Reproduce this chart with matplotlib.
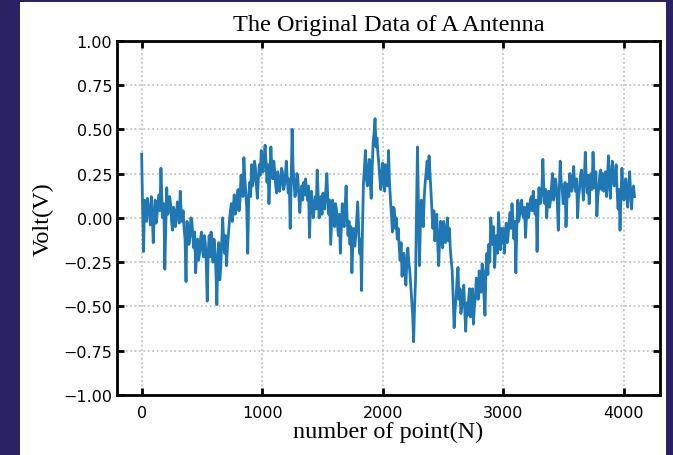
import numpy as np
import matplotlib
matplotlib.use("Agg")
import matplotlib.pyplot as plt
from matplotlib.patches import Rectangle

# sample index step of the read-off values
step = 8
volt = [
    0.36, 0.05, -0.19, 0.10, 0.05, -0.02, 0.11, 0.06, 0.03, -0.04, 0.12, 0.02, -0.14, 0.00, 0.10, -0.03, 0.02, 0.08, 0.13, 0.04,
    0.28, 0.10, 0.00, 0.08, -0.29, -0.05, 0.17, 0.02, 0.04, 0.12, 0.08, -0.02, -0.07, 0.06, 0.04, -0.05, 0.00, 0.09, 0.06, -0.03,
    0.15, 0.03, -0.02, 0.04, -0.06, -0.12, -0.36, -0.02, -0.05, -0.15, -0.11, 0.00, -0.01, -0.10, -0.17, -0.08, -0.31, -0.20, -0.12, -0.24,
    -0.20, -0.12, -0.08, -0.18, -0.22, -0.10, -0.14, -0.26, -0.47, -0.20, -0.10, -0.22, -0.08, -0.16, -0.25, -0.12, -0.18, -0.30, -0.49, -0.22,
    -0.14, -0.35, -0.28, -0.15, 0.00, -0.12, -0.20, -0.10, -0.27, -0.16, -0.09, -0.02, 0.04, 0.08, -0.02, 0.06, 0.13, 0.02, 0.05, 0.12,
    0.16, 0.04, 0.10, 0.24, 0.20, 0.12, 0.34, 0.22, 0.14, 0.05, -0.20, 0.12, 0.20, 0.12, 0.30, 0.18, 0.22, 0.32, 0.28, 0.18,
    0.11, 0.22, 0.30, 0.24, 0.38, 0.28, 0.26, 0.34, 0.41, 0.30, 0.20, 0.30, 0.08, 0.24, 0.40, 0.28, 0.22, 0.32, 0.26, 0.18,
    0.14, 0.26, 0.22, 0.15, 0.20, 0.28, 0.26, 0.16, 0.18, 0.24, 0.32, 0.22, 0.14, 0.22, -0.06, 0.18, 0.50, 0.28, 0.20, 0.12,
    0.15, 0.25, 0.22, 0.12, 0.03, 0.14, 0.18, 0.10, 0.20, 0.13, 0.22, 0.14, 0.10, 0.18, -0.11, 0.05, 0.15, 0.08, 0.00, 0.06,
    0.12, 0.05, 0.27, 0.14, 0.00, 0.08, 0.12, 0.02, 0.14, 0.08, 0.05, 0.16, 0.25, 0.12, 0.02, 0.10, -0.15, -0.02, 0.10, -0.02,
    -0.05, 0.08, 0.05, -0.04, -0.10, 0.02, -0.20, -0.06, 0.08, -0.02, -0.05, 0.06, 0.18, 0.00, -0.10, -0.02, -0.15, -0.05, -0.31, -0.14,
    -0.06, -0.16, -0.10, 0.00, 0.09, -0.05, -0.20, -0.12, -0.41, -0.05, 0.20, 0.28, 0.38, 0.22, 0.18, 0.28, 0.33, 0.20, 0.11, 0.28,
    0.42, 0.48, 0.56, 0.40, 0.45, 0.36, 0.30, 0.22, 0.16, 0.25, 0.31, 0.20, 0.15, 0.30, 0.26, 0.18, 0.38, 0.20, 0.10, 0.02,
    -0.08, 0.06, 0.05, -0.06, 0.00, -0.12, -0.06, -0.16, -0.24, -0.14, -0.33, -0.22, -0.20, -0.30, -0.38, -0.24, -0.17, -0.25, -0.30, -0.38,
    -0.47, -0.55, -0.70, -0.50, -0.35, 0.05, 0.40, 0.05, -0.27, -0.05, 0.10, 0.02, -0.05, 0.12, 0.20, 0.26, 0.32, 0.22, 0.35, 0.25,
    0.16, 0.05, -0.06, 0.04, -0.13, -0.05, 0.02, -0.15, -0.27, -0.12, -0.02, -0.10, -0.17, -0.02, -0.06, -0.14, -0.08, 0.00, -0.13, -0.06,
    -0.17, -0.24, -0.30, -0.45, -0.62, -0.52, -0.45, -0.35, -0.28, -0.46, -0.40, -0.54, -0.50, -0.42, -0.38, -0.52, -0.64, -0.48, -0.55, -0.46,
    -0.40, -0.56, -0.50, -0.40, -0.60, -0.50, -0.45, -0.34, -0.38, -0.46, -0.30, -0.38, -0.42, -0.26, -0.30, -0.45, -0.55, -0.30, -0.20, -0.32,
    -0.15, -0.25, 0.00, -0.08, -0.15, -0.05, -0.28, -0.16, -0.10, -0.20, 0.03, -0.08, -0.18, -0.06, -0.14, -0.06, -0.20, -0.10, -0.03, -0.14,
    -0.10, -0.02, 0.03, -0.06, 0.08, -0.02, -0.12, -0.02, -0.31, -0.05, 0.10, -0.02, 0.02, 0.08, 0.10, 0.02, 0.00, 0.06, -0.11, 0.00,
    0.08, 0.00, 0.04, 0.10, 0.12, 0.04, 0.15, 0.06, 0.02, 0.10, -0.19, 0.05, 0.17, 0.08, 0.09, 0.16, 0.33, 0.16, 0.08, 0.16,
    0.00, 0.10, 0.15, 0.06, 0.10, 0.18, 0.25, 0.10, 0.14, 0.22, 0.18, 0.08, -0.07, 0.15, 0.32, 0.20, 0.17, 0.08, 0.10, 0.20,
    -0.05, 0.10, 0.19, 0.12, 0.25, 0.16, 0.15, 0.22, 0.29, 0.18, 0.15, 0.22, 0.00, 0.12, 0.16, 0.24, 0.27, 0.18, 0.10, 0.22,
    0.37, 0.22, 0.14, 0.24, 0.08, 0.18, 0.25, 0.16, 0.37, 0.24, 0.17, 0.26, 0.01, 0.12, 0.17, 0.24, 0.27, 0.16, 0.25, 0.15,
    0.20, 0.26, 0.12, 0.22, 0.35, 0.20, 0.11, 0.24, 0.32, 0.22, 0.18, 0.24, 0.30, 0.15, 0.05, 0.16, -0.07, 0.12, 0.28, 0.16,
    0.10, 0.18, 0.22, 0.12, 0.06, 0.18, 0.26, 0.14, 0.05, 0.16, 0.18, 0.12,
]
points = np.arange(len(volt)) * step
n_total = 4096

x_ticks = [0, 1000, 2000, 3000, 4000]
y_ticks = [-1.00, -0.75, -0.50, -0.25, 0.00, 0.25, 0.50, 0.75, 1.00]

title = "The Original Data of A Antenna"
xlabel = "number of point(N)"
ylabel = "Volt(V)"

fig = plt.figure(figsize=(6.73, 4.56), dpi=100)
fig.patch.set_facecolor("#2a2262")
bg = Rectangle((0.030, 0.0), 0.960, 0.993, transform=fig.transFigure,
               facecolor="white", edgecolor="none", zorder=-10)
fig.add_artist(bg)

ax = fig.add_axes([0.1738, 0.1316, 0.8069, 0.777])
ax.set_zorder(1)
ax.plot(points, volt, color="#1f77b4", linewidth=2.0)

margin = 0.05 * (n_total - 1)
ax.set_xlim(-margin, n_total - 1 + margin)
ax.set_ylim(-1.0, 1.0)
ax.set_xticks(x_ticks)
ax.set_yticks(y_ticks)
ax.yaxis.set_major_formatter(matplotlib.ticker.FuncFormatter(
    lambda v, p: ("%.2f" % v).replace("-", "\u2212")))

ax.grid(True, linestyle=":", color="#bbbbbb", linewidth=1.2)
ax.tick_params(direction="in", top=True, right=True, length=5, width=2,
               labelsize=11.5, colors="black")
ax.tick_params(axis="x", pad=7)
for s in ax.spines.values():
    s.set_linewidth(2)

serif = ["Liberation Serif", "DejaVu Serif"]
ax.set_title(title, family=serif, fontsize=17.5, pad=8)
ax.set_xlabel(xlabel, family=serif, fontsize=17.5, labelpad=1)
ax.set_ylabel(ylabel, family=serif, fontsize=17.5, labelpad=7)

fig.savefig("out.png", dpi=100, facecolor=fig.get_facecolor())
